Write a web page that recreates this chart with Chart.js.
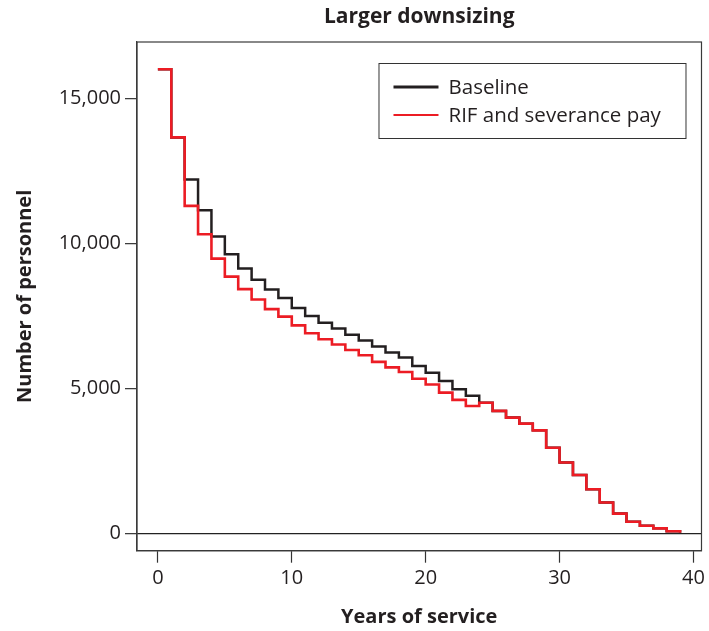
<!DOCTYPE html>
<html>
<head>
<meta charset="utf-8">
<script src="https://cdn.jsdelivr.net/npm/chart.js@4"></script>
<style>
    html, body { margin: 0; padding: 0; background: #fff; }
    #wrap { width: 709px; height: 631px; }
</style>
</head>
<body>
<div id="wrap"><canvas id="chart" width="709" height="631"></canvas></div>
<script>
// Years of service 0..39
const years = [0, 1, 2, 3, 4, 5, 6, 7, 8, 9, 10, 11, 12, 13, 14, 15, 16, 17, 18, 19,
    20, 21, 22, 23, 24, 25, 26, 27, 28, 29, 30, 31, 32, 33, 34, 35, 36, 37, 38, 39];

const baseline = [16000, 13650, 12200, 11140, 10230, 9620, 9130, 8740, 8410, 8110,
    7770, 7490, 7260, 7060, 6850, 6650, 6440, 6230, 6060, 5770,
    5540, 5250, 4970, 4740, 4500, 4220, 3990, 3780, 3550, 2950,
    2440, 2010, 1520, 1060, 680, 400, 260, 170, 70, 20];

const rifSeverance = [16000, 13650, 11290, 10310, 9470, 8850, 8420, 8060, 7730, 7470,
    7170, 6900, 6690, 6510, 6320, 6140, 5910, 5720, 5560, 5330,
    5130, 4850, 4600, 4390, 4500, 4220, 3990, 3780, 3550, 2950,
    2440, 2010, 1520, 1060, 680, 400, 260, 170, 70, 20];

const xTicks = [0, 10, 20, 30, 40];
const yTicks = [0, 5000, 10000, 15000];

const seriesNames = ['Baseline', 'RIF and severance pay'];
const seriesColors = ['#231f20', '#ec1c24'];

const FONT = "'Open Sans', 'Noto Sans', sans-serif";
const INK = '#231f20';

function toPoints(vals) {
    return years.map((y, i) => ({ x: y, y: vals[i] }));
}

// box around plot area + legend inside top right
const framePlugin = {
    id: 'frame',
    afterDraw(chart) {
        const { ctx, chartArea } = chart;
        ctx.save();
        ctx.strokeStyle = '#3a3a3a';
        ctx.lineWidth = 1.2;
        ctx.strokeRect(chartArea.left, chartArea.top,
            chartArea.right - chartArea.left, chartArea.bottom - chartArea.top);

        // legend
        const bx = chartArea.right - 323, by = chartArea.top + 21;
        const bw = 307, bh = 75;
        ctx.fillStyle = '#fff';
        ctx.fillRect(bx, by, bw, bh);
        ctx.strokeStyle = '#333';
        ctx.lineWidth = 1;
        ctx.strokeRect(bx + 0.5, by + 0.5, bw, bh);
        ctx.font = '20.5px ' + FONT;
        ctx.textBaseline = 'middle';
        ctx.textAlign = 'left';
        seriesNames.forEach((name, i) => {
            const ly = by + 24 + i * 28;
            ctx.strokeStyle = seriesColors[i];
            ctx.lineWidth = i === 0 ? 3 : 2;
            ctx.beginPath();
            ctx.moveTo(bx + 15, ly);
            ctx.lineTo(bx + 60, ly);
            ctx.stroke();
            ctx.fillStyle = INK;
            ctx.fillText(name, bx + 70, ly + 1);
        });
        ctx.restore();
    }
};

const ctx = document.getElementById('chart').getContext('2d');

new Chart(ctx, {
    type: 'line',
    data: {
        datasets: [
            {
                label: seriesNames[0],
                data: toPoints(baseline),
                borderColor: seriesColors[0],
                borderWidth: 2.5,
                stepped: true,
                pointRadius: 0,
                fill: false,
                order: 1
            },
            {
                label: seriesNames[1],
                data: toPoints(rifSeverance),
                borderColor: seriesColors[1],
                borderWidth: 2.6,
                stepped: true,
                pointRadius: 0,
                fill: false,
                order: 0
            }
        ]
    },
    options: {
        responsive: false,
        animation: false,
        layout: { padding: { left: 0, right: 6, top: 0, bottom: 0 } },
        plugins: {
            legend: { display: false },
            tooltip: { enabled: false },
            title: {
                display: true,
                text: 'Larger downsizing',
                color: INK,
                fullSize: false,
                font: { family: FONT, size: 21, weight: 'bold' },
                padding: { top: 4.4, bottom: 12.4 }
            }
        },
        scales: {
            x: {
                type: 'linear',
                min: -1.56,
                max: 40.6,
                afterBuildTicks: (scale) => { scale.ticks = xTicks.map(v => ({ value: v })); },
                afterFit: (scale) => { scale.height = 80.3; },
                grid: {
                    drawOnChartArea: false,
                    drawTicks: true,
                    tickLength: 12,
                    tickColor: '#333',
                    tickWidth: 1.2
                },
                border: { display: true, color: '#3a3a3a', width: 1.2 },
                ticks: {
                    color: INK,
                    padding: 4,
                    maxRotation: 0,
                    font: { family: FONT, size: 20 }
                },
                title: {
                    display: true,
                    text: 'Years of service',
                    color: INK,
                    font: { family: FONT, size: 20, weight: 'bold' },
                    padding: { top: 0, bottom: 2 }
                }
            },
            y: {
                type: 'linear',
                min: -600,
                max: 16940,
                afterBuildTicks: (scale) => { scale.ticks = yTicks.map(v => ({ value: v })); },
                afterFit: (scale) => { scale.width = 137; },
                grid: {
                    drawTicks: true,
                    tickLength: 12,
                    tickColor: '#333',
                    tickWidth: 1.2,
                    color: (c) => (c.tick && c.tick.value === 0) ? '#222' : 'rgba(0,0,0,0)',
                    lineWidth: 1.3
                },
                border: { display: true, color: '#3a3a3a', width: 1.2 },
                ticks: {
                    color: INK,
                    padding: 4,
                    font: { family: FONT, size: 20 },
                    callback: (v) => v.toLocaleString('en-US')
                },
                title: {
                    display: true,
                    text: 'Number of personnel',
                    color: INK,
                    font: { family: FONT, size: 20, weight: 'bold' },
                    padding: { top: 13, bottom: 0 }
                }
            }
        }
    },
    plugins: [framePlugin]
});
</script>
</body>
</html>
